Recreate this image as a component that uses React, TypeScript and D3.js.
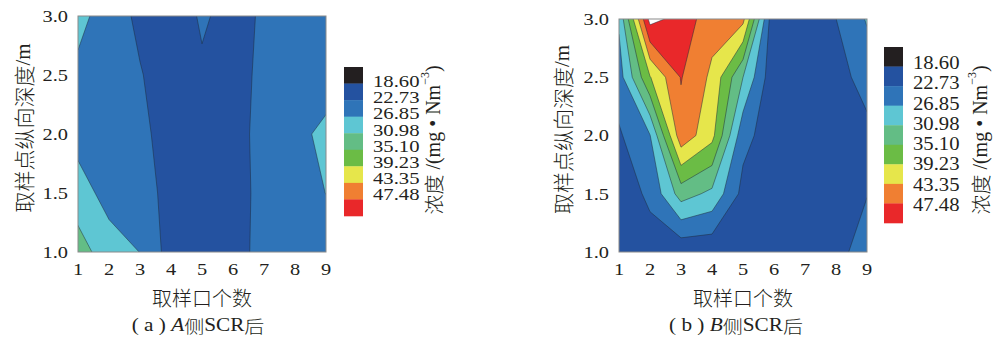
import * as d3 from 'd3';

const ports = [1, 2, 3, 4, 5, 6, 7, 8, 9];
const depths = [1.0, 1.5, 2.0, 2.5, 3.0];
const depthTicks = ['1.0', '1.5', '2.0', '2.5', '3.0'];
const levels = [18.6, 22.73, 26.85, 30.98, 35.1, 39.23, 43.35, 47.48];
const levelLabels = ['18.60', '22.73', '26.85', '30.98', '35.10', '39.23', '43.35', '47.48'];
const topLevel = 51.6;
const bandColors = ['#231f20', '#2452a0', '#2f74b8', '#5ec6d3', '#63bd85', '#6bbc45', '#e6e64b', '#f07f32', '#e9282a'];
const overColor = '#ffffff';

// rows: depth 1.0 -> 3.0, columns: port 1 -> 9
const sideA = [
  [33, 28.5, 26.8, 20.9, 20.5, 21, 24.2, 25, 25],
  [28.5, 25.5, 25, 21, 20.5, 21, 24, 25, 26.9],
  [25.5, 24.5, 24, 20.5, 21, 21.5, 23.8, 25.5, 28],
  [26, 24.5, 23, 20.5, 22.2, 21.5, 23.5, 25, 24.5],
  [28, 25, 21.8, 20.5, 23.2, 21.5, 23.2, 24, 24],
];
const sideB = [
  [20, 21, 19.5, 19.5, 19.5, 20, 20.5, 21.5, 24.5],
  [20.5, 23.5, 32.8, 30, 21.5, 20, 20.5, 21, 22.6],
  [22.2, 26.7, 46, 40.5, 24, 20.5, 20, 20.5, 21.5],
  [25, 39, 47.7, 42.5, 31, 19.5, 19.5, 21, 24.5],
  [27.5, 53, 50, 45, 44.5, 18.8, 19.5, 22.7, 27.2],
];

const serif = '"Liberation Serif", "Times New Roman", serif';
const cjk = '"Noto Sans CJK SC", sans-serif';

function SText({ x, y, anchor = 'start', size = 17, sx = 1.2, children }: any) {
  return (
    <text
      transform={`translate(${x},${y}) scale(${sx},1)`}
      textAnchor={anchor}
      dominantBaseline="central"
      fontFamily={serif}
      fontSize={size}
      fill="#231f20"
    >
      {children}
    </text>
  );
}

interface PanelProps {
  id: string;
  rows: number[][];
  plot: { x0: number; x1: number; y0: number; y1: number };
  legend: { x: number; y0: number; y1: number; lx: number; l0: number; l1: number; size: number; ux: number; uy: number };
  yTitleX: number;
  capX: number;
  tag: string;
  side: string;
}

function Panel({ id, rows, plot, legend, yTitleX, capX, tag, side }: PanelProps) {
  const x = d3.scaleLinear().domain([ports[0], ports[ports.length - 1]]).range([plot.x0, plot.x1]);
  const y = d3.scaleLinear().domain([depths[0], depths[depths.length - 1]]).range([plot.y1, plot.y0]);
  // d3.contours puts grid value i at coordinate i + 0.5
  const gx = d3.scaleLinear().domain([0.5, ports.length - 0.5]).range([ports[0], ports[ports.length - 1]]);
  const gy = d3.scaleLinear().domain([0.5, depths.length - 0.5]).range([depths[0], depths[depths.length - 1]]);

  const contours = d3.contours()
    .size([ports.length, depths.length])
    .thresholds([...levels, topLevel])(rows.flat());

  const path = d3.geoPath(d3.geoTransform({
    point(px: number, py: number) {
      (this as any).stream.point(x(gx(px)), y(gy(py)));
    },
  }));

  const fills = [...bandColors.slice(1), overColor];
  const band = d3.scaleBand<number>().domain(d3.range(bandColors.length)).range([legend.y0, legend.y1]);
  const labelY = d3.scaleLinear().domain([0, levelLabels.length - 1]).range([legend.l0, legend.l1]);
  const cx = (plot.x0 + plot.x1) / 2;
  const cy = (plot.y0 + plot.y1) / 2;

  return (
    <g>
      <defs>
        <clipPath id={`clip-${id}`}>
          <rect x={plot.x0} y={plot.y0} width={plot.x1 - plot.x0} height={plot.y1 - plot.y0} />
        </clipPath>
      </defs>
      <g clipPath={`url(#clip-${id})`}>
        <rect x={plot.x0} y={plot.y0} width={plot.x1 - plot.x0} height={plot.y1 - plot.y0} fill={bandColors[0]} />
        {contours.map((c, i) => (
          <path key={i} d={path(c as any) || ''} fill={fills[i]}
            stroke={i === 0 ? 'none' : '#1e2a3a'} strokeWidth={0.7} strokeOpacity={0.7} />
        ))}
      </g>
      <rect x={plot.x0} y={plot.y0} width={plot.x1 - plot.x0} height={plot.y1 - plot.y0}
        fill="none" stroke="#8a8a8a" strokeWidth={1} />

      {depths.map((d, i) => (
        <SText key={d} x={plot.x0 - 10} y={y(d)} anchor="end">{depthTicks[i]}</SText>
      ))}
      {ports.map(p => (
        <SText key={p} x={x(p)} y={plot.y1 + 17} anchor="middle">{p}</SText>
      ))}

      <text transform={`translate(${yTitleX},${cy - 6}) rotate(-90)`} textAnchor="middle"
        dominantBaseline="central" fontSize={21} fill="#231f20">
        <tspan fontFamily={cjk} fontWeight={300}>取样点纵向深度</tspan>
        <tspan fontFamily={serif}>/m</tspan>
      </text>

      <text x={cx} y={297} textAnchor="middle" dominantBaseline="central"
        fontFamily={cjk} fontWeight={300} fontSize={20} fill="#231f20">取样口个数</text>

      <text transform={`translate(${capX},325) scale(1.18,1)`} textAnchor="middle" dominantBaseline="central"
        fontSize={18} fill="#231f20">
        <tspan fontFamily={serif}>( {tag} ) </tspan>
        <tspan fontFamily={serif} fontStyle="italic">{side}</tspan>
        <tspan fontFamily={cjk} fontWeight={300} fontSize={17}>侧</tspan>
        <tspan fontFamily={serif}>SCR</tspan>
        <tspan fontFamily={cjk} fontWeight={300} fontSize={17}>后</tspan>
      </text>

      {bandColors.map((c, i) => (
        <rect key={i} x={legend.x} y={band(i)} width={19} height={band.bandwidth() + 0.3} fill={c} />
      ))}
      {levelLabels.map((l, i) => (
        <SText key={l} x={legend.lx} y={labelY(i)} size={legend.size} sx={18 * 1.15 / legend.size}>{l}</SText>
      ))}

      <text transform={`translate(${legend.ux},${legend.uy}) rotate(-90)`} textAnchor="middle"
        dominantBaseline="central" fontSize={20} fill="#231f20">
        <tspan fontFamily={cjk} fontWeight={300}>浓度</tspan>
        <tspan fontFamily={serif}> /(mg • Nm</tspan>
        <tspan fontFamily={serif} fontSize={12} dy={-8}>−3</tspan>
        <tspan fontFamily={serif} dy={8}>)</tspan>
      </text>
    </g>
  );
}

export default function App() {
  return (
    <svg width={993} height={338} style={{ position: 'absolute', left: 0, top: 0, background: '#fff' }}>
      <Panel
        id="a"
        rows={sideA}
        plot={{ x0: 78, x1: 326, y0: 16, y1: 252 }}
        legend={{ x: 344, y0: 67, y1: 216, lx: 373, l0: 82, l1: 195, size: 16, ux: 433, uy: 140 }}
        yTitleX={23}
        capX={198}
        tag="a"
        side="A"
      />
      <Panel
        id="b"
        rows={sideB}
        plot={{ x0: 619, x1: 867, y0: 19, y1: 252 }}
        legend={{ x: 884, y0: 47, y1: 223, lx: 913, l0: 63, l1: 205, size: 18, ux: 980, uy: 140 }}
        yTitleX={562}
        capX={736}
        tag="b"
        side="B"
      />
    </svg>
  );
}
